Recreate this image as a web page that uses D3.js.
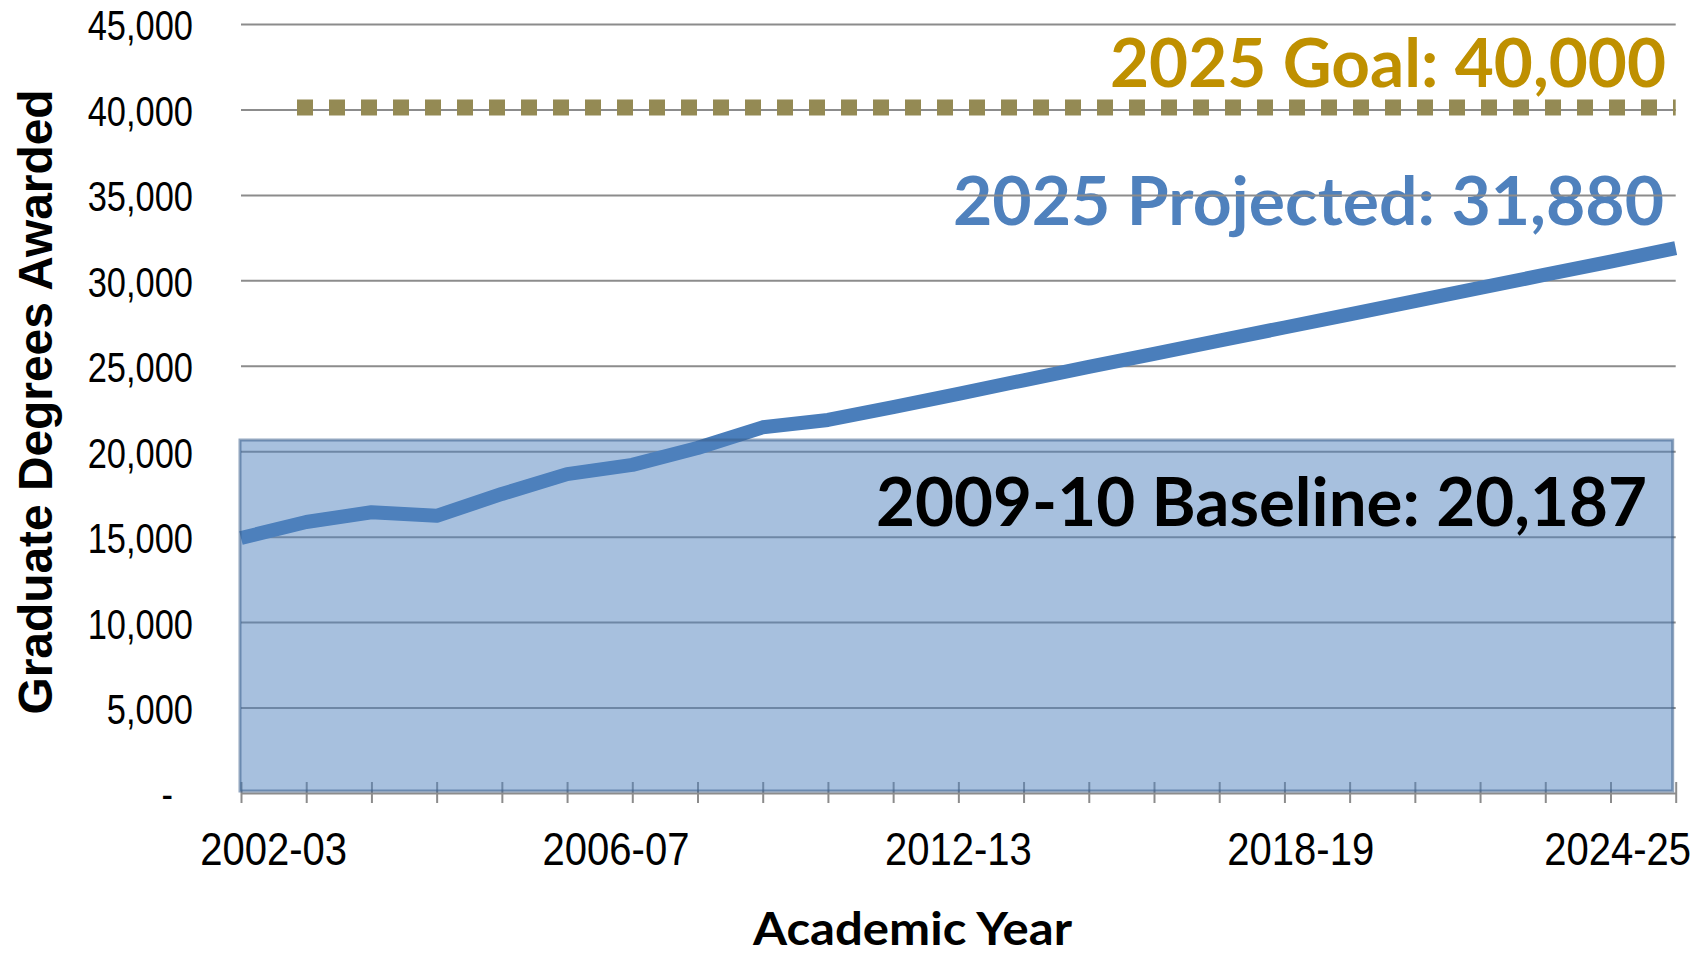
<!DOCTYPE html>
<html>
<head>
<meta charset="utf-8">
<script src="https://cdn.jsdelivr.net/npm/d3@7"></script>
<style>
  html, body { margin: 0; padding: 0; background: #fff; }
  svg { display: block; }
</style>
</head>
<body>
<svg id="chart" width="1707" height="955"></svg>
<script>
// ---------------- data ----------------
const categories = [
  "2002-03","2003-04","2004-05","2005-06","2006-07","2007-08","2008-09","2009-10",
  "2010-11","2011-12","2012-13","2013-14","2014-15","2015-16","2016-17","2017-18",
  "2018-19","2019-20","2020-21","2021-22","2022-23","2023-24","2024-25"
];
const degrees = [
  14920, 15860, 16430, 16220, 17500, 18660, 19200, 20187,
  21400, 21830, 22580, 23360, 24150, 24930, 25700, 26470,
  27240, 28010, 28780, 29560, 30330, 31100, 31880
];
const goalValue = 40000;
const baselineValue = 20187;
const yTicks = [0, 5000, 10000, 15000, 20000, 25000, 30000, 35000, 40000, 45000];
const xTickLabels = ["2002-03", "2006-07", "2012-13", "2018-19", "2024-25"];
const goalLabel = "2025 Goal: 40,000";
const projectedLabel = "2025 Projected: 31,880";
const baselineLabel = "2009-10 Baseline: 20,187";
const yTitle = "Graduate Degrees Awarded";
const xTitle = "Academic Year";

// ---------------- layout ----------------
const W = 1707, H = 955;
const plot = { left: 241, right: 1675.7, top: 24, bottom: 793 };
const chartRight = 1691;
const narrowFont = "'Liberation Sans', Arial, sans-serif";
const yNarrowScale = 0.82;
const xNarrowScale = 0.87;
const calibriLike = "Lato, Carlito, Calibri, 'Open Sans', sans-serif";

const svg = d3.select("#chart");

const x = d3.scalePoint().domain(categories).range([plot.left, plot.right]);
const y = d3.scaleLinear().domain([0, 45000]).range([plot.bottom, plot.top]);
const step = x.step();

// projected / goal labels (behind gridlines)
svg.append("text")
  .attr("x", 953).attr("y", 225)
  .attr("font-family", calibriLike).attr("font-weight", 700).attr("font-size", 67)
  .attr("fill", "#4f81bd")
  .attr("textLength", 711).attr("lengthAdjust", "spacingAndGlyphs")
  .text(projectedLabel);

svg.append("text")
  .attr("x", 1110).attr("y", 87)
  .attr("font-family", calibriLike).attr("font-weight", 700).attr("font-size", 67)
  .attr("fill", "#bf9000")
  .attr("textLength", 556).attr("lengthAdjust", "spacingAndGlyphs")
  .text(goalLabel);

// y axis with gridlines
const yPad = 48;
const yAxis = svg.append("g")
  .attr("transform", `translate(${plot.left},0)`)
  .call(d3.axisLeft(y)
    .tickValues(yTicks)
    .tickSize(-(plot.right - plot.left))
    .tickPadding(yPad)
    .tickFormat(d => d === 0 ? "-" : d3.format(",")(d)));
yAxis.select(".domain").remove();
yAxis.selectAll(".tick line")
  .attr("stroke", "#8c8c8c").attr("stroke-width", 2)
  .attr("display", d => d === 0 ? "none" : null);
yAxis.selectAll(".tick text")
  .attr("font-family", narrowFont).attr("font-size", 42).attr("fill", "#000")
  .attr("dy", "0.38em")
  .attr("x", 0)
  .attr("transform", d => `translate(${-yPad - (d === 0 ? 20 : 0)},0) scale(${yNarrowScale},1)`);

// x axis
const xAxis = svg.append("g")
  .attr("transform", `translate(0,${plot.bottom})`)
  .call(d3.axisBottom(x).tickSizeInner(10).tickSizeOuter(0).tickFormat(""));
xAxis.select(".domain").attr("stroke", "#8c8c8c").attr("stroke-width", 2);
xAxis.selectAll(".tick line").attr("y1", -11).attr("stroke", "#8c8c8c").attr("stroke-width", 2);

// goal line (square dots)
svg.append("line")
  .attr("x1", x(categories[0]) + 56).attr("x2", plot.right)
  .attr("y1", y(goalValue) - 2).attr("y2", y(goalValue) - 2)
  .attr("stroke", "#948a54").attr("stroke-width", 16)
  .attr("stroke-dasharray", "16 16");

// data line
const line = d3.line().x((d, i) => x(categories[i])).y(d => y(d));
svg.append("path")
  .datum(degrees)
  .attr("d", line)
  .attr("fill", "none")
  .attr("stroke", "#4a7ebb")
  .attr("stroke-width", 14)
  .attr("stroke-linejoin", "round");

// baseline box (semi-transparent overlay)
svg.append("rect")
  .attr("x", x(categories[0]) - 1)
  .attr("y", y(baselineValue) - 8)
  .attr("width", x(categories[categories.length - 1]) - 3 - (x(categories[0]) - 1))
  .attr("height", y(0) - 2 - (y(baselineValue) - 8))
  .attr("fill", "rgba(79,129,189,0.5)")
  .attr("stroke", "rgba(56,93,138,0.55)")
  .attr("stroke-width", 3);

svg.append("text")
  .attr("x", 876).attr("y", 526)
  .attr("font-family", calibriLike).attr("font-weight", 700).attr("font-size", 67)
  .attr("fill", "#000")
  .attr("textLength", 771).attr("lengthAdjust", "spacingAndGlyphs")
  .text(baselineLabel);

// x tick labels
const xl = d3.scalePoint().domain(xTickLabels)
  .range([x(categories[0]) + step / 2, x(categories[21]) + step / 2]);
svg.append("g").selectAll("text")
  .data(xTickLabels).join("text")
  .attr("font-family", narrowFont).attr("font-size", 46).attr("fill", "#000")
  .attr("text-anchor", "middle")
  .attr("x", 0).attr("y", 0)
  .text(d => d)
  .attr("transform", function(d) {
    const w = this.getComputedTextLength() * xNarrowScale;
    const cx = Math.min(xl(d), chartRight - w / 2);
    return `translate(${cx},865) scale(${xNarrowScale},1)`;
  });

// axis titles
svg.append("text")
  .attr("transform", `translate(52,402) rotate(-90)`)
  .attr("text-anchor", "middle")
  .attr("font-family", "'Liberation Sans', Arial, sans-serif").attr("font-weight", 700)
  .attr("font-size", 48).attr("fill", "#000")
  .attr("textLength", 625).attr("lengthAdjust", "spacingAndGlyphs")
  .text(yTitle);

svg.append("text")
  .attr("x", 753).attr("y", 945)
  .attr("font-family", calibriLike).attr("font-weight", 700).attr("font-size", 46)
  .attr("fill", "#000")
  .attr("textLength", 319).attr("lengthAdjust", "spacingAndGlyphs")
  .text(xTitle);
</script>
</body>
</html>
